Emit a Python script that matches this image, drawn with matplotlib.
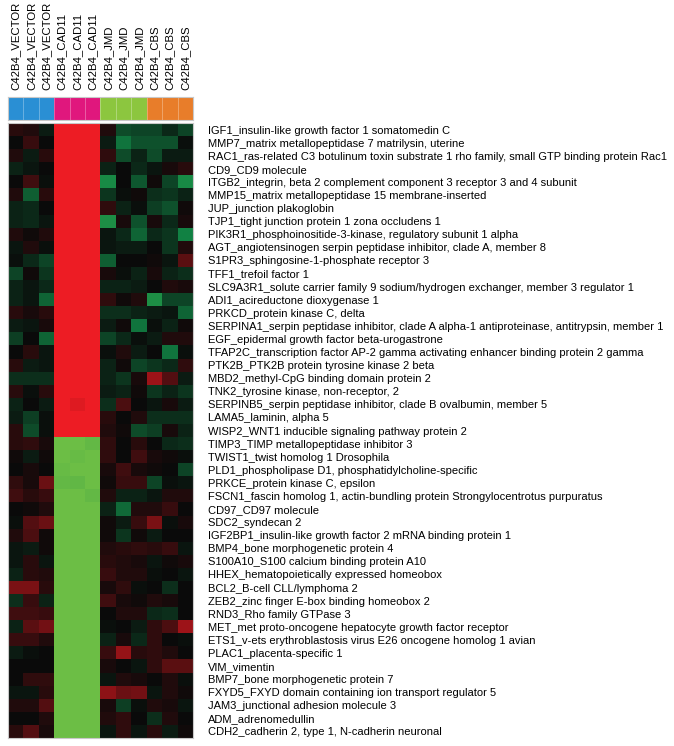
import numpy as np
import matplotlib
matplotlib.use("Agg")
import matplotlib.pyplot as plt
from matplotlib.colors import LinearSegmentedColormap, ListedColormap

samples = ["C42B4_VECTOR"] * 3 + ["C42B4_CAD11"] * 3 + ["C42B4_JMD"] * 3 + ["C42B4_CBS"] * 3
group_colors = ["#2a8fd4"] * 3 + ["#e0177d"] * 3 + ["#8cc63f"] * 3 + ["#e87d2a"] * 3

genes = [
    "IGF1_insulin-like growth factor 1 somatomedin C",
    "MMP7_matrix metallopeptidase 7 matrilysin, uterine",
    "RAC1_ras-related C3 botulinum toxin substrate 1 rho family, small GTP binding protein Rac1",
    "CD9_CD9 molecule",
    "ITGB2_integrin, beta 2 complement component 3 receptor 3 and 4 subunit",
    "MMP15_matrix metallopeptidase 15 membrane-inserted",
    "JUP_junction plakoglobin",
    "TJP1_tight junction protein 1 zona occludens 1",
    "PIK3R1_phosphoinositide-3-kinase, regulatory subunit 1 alpha",
    "AGT_angiotensinogen serpin peptidase inhibitor, clade A, member 8",
    "S1PR3_sphingosine-1-phosphate receptor 3",
    "TFF1_trefoil factor 1",
    "SLC9A3R1_solute carrier family 9 sodium/hydrogen exchanger, member 3 regulator 1",
    "ADI1_acireductone dioxygenase 1",
    "PRKCD_protein kinase C, delta",
    "SERPINA1_serpin peptidase inhibitor, clade A alpha-1 antiproteinase, antitrypsin, member 1",
    "EGF_epidermal growth factor beta-urogastrone",
    "TFAP2C_transcription factor AP-2 gamma activating enhancer binding protein 2 gamma",
    "PTK2B_PTK2B protein tyrosine kinase 2 beta",
    "MBD2_methyl-CpG binding domain protein 2",
    "TNK2_tyrosine kinase, non-receptor, 2",
    "SERPINB5_serpin peptidase inhibitor, clade B ovalbumin, member 5",
    "LAMA5_laminin, alpha 5",
    "WISP2_WNT1 inducible signaling pathway protein 2",
    "TIMP3_TIMP metallopeptidase inhibitor 3",
    "TWIST1_twist homolog 1 Drosophila",
    "PLD1_phospholipase D1, phosphatidylcholine-specific",
    "PRKCE_protein kinase C, epsilon",
    "FSCN1_fascin homolog 1, actin-bundling protein Strongylocentrotus purpuratus",
    "CD97_CD97 molecule",
    "SDC2_syndecan 2",
    "IGF2BP1_insulin-like growth factor 2 mRNA binding protein 1",
    "BMP4_bone morphogenetic protein 4",
    "S100A10_S100 calcium binding protein A10",
    "HHEX_hematopoietically expressed homeobox",
    "BCL2_B-cell CLL/lymphoma 2",
    "ZEB2_zinc finger E-box binding homeobox 2",
    "RND3_Rho family GTPase 3",
    "MET_met proto-oncogene hepatocyte growth factor receptor",
    "ETS1_v-ets erythroblastosis virus E26 oncogene homolog 1 avian",
    "PLAC1_placenta-specific 1",
    "VIM_vimentin",
    "BMP7_bone morphogenetic protein 7",
    "FXYD5_FXYD domain containing ion transport regulator 5",
    "JAM3_junctional adhesion molecule 3",
    "ADM_adrenomedullin",
    "CDH2_cadherin 2, type 1, N-cadherin neuronal",
]

vector = [
    [0.2, 0.15, -0.15], [0, 0.3, 0.02], [0.15, -0.15, 0.2], [-0.2, -0.1, 0],
    [0, 0.35, -0.05], [0.15, -0.65, 0.2], [-0.2, -0.25, 0], [-0.2, -0.25, -0.1],
    [0.15, 0.05, 0.15], [-0.1, 0.15, -0.05], [-0.05, -0.25, -0.45], [-0.45, 0.05, -0.35],
    [-0.2, -0.1, -0.25], [-0.2, -0.1, -0.7], [0.2, 0.1, 0.2], [-0.15, -0.1, 0.1],
    [-0.4, 0, -0.7], [0, 0.2, -0.1], [0.2, -0.15, -0.1], [-0.3, -0.3, -0.3],
    [0.2, -0.05, 0.2], [-0.2, 0, -0.15], [-0.15, -0.4, -0.05], [0.2, -0.5, -0.05],
    [0.2, 0.25, 0.1], [0.05, -0.15, 0.05], [0, 0.1, 0], [0.25, 0.1, 0.6],
    [0.35, 0.2, 0.3], [0, 0.05, 0.15], [-0.05, 0.45, 0.6], [0.15, 0.4, 0.05],
    [-0.1, -0.15, 0.05], [-0.1, 0.2, -0.1], [-0.2, 0.2, 0.15], [0.7, 0.7, 0.2],
    [-0.3, 0.3, -0.2], [0.35, 0.35, 0.3], [-0.2, 0.5, 0.65], [0.3, 0.3, 0.15],
    [-0.15, -0.05, 0], [0, 0, 0], [0, 0.25, 0.25], [-0.1, -0.1, 0.2],
    [0.15, 0.15, 0.45], [0, 0, 0.15], [0.2, 0.45, 0.1],
]

cad11 = (
    [[3, 3, 3]] * 21 + [[3, 2.6, 3]] + [[3, 3, 3]] * 2
    + [[-3, -3, -2.8], [-3, -2.9, -3], [-2.9, -3, -3], [-2.8, -2.75, -3], [-3, -3, -2.8]]
    + [[-3, -3, -3]] * 18
)

jmd = [
    [0.15, -0.5, -0.45], [-0.15, -0.8, -0.55], [0.25, -0.5, -0.2], [-0.2, 0, -0.25],
    [-1.1, 0, -0.6], [-0.35, -0.05, 0.05], [0.25, -0.2, -0.05], [-1.2, 0.1, -0.55],
    [-0.1, -0.25, -0.7], [-0.1, -0.15, -0.15], [-0.65, 0, 0], [0.1, -0.05, -0.2],
    [-0.2, -0.2, -0.15], [0.25, 0.05, 0.15], [-0.3, -0.3, -0.2], [-0.15, 0.05, -0.8],
    [-0.45, -0.25, -0.05], [-0.05, 0.15, -0.15], [-0.2, 0.05, -0.45], [-0.2, -0.35, 0.1],
    [-0.15, -0.2, 0.05], [-0.3, 0.4, 0], [0.2, 0, 0.15], [0.15, 0.05, -0.5],
    [0.25, 0, 0.2], [0.25, 0, 0.35], [0.1, 0.35, 0.1], [0.05, 0.3, 0.3],
    [0.15, -0.2, -0.2], [-0.2, -0.75, 0.15], [0.05, -0.15, 0.3], [0.05, -0.35, 0.05],
    [0.15, 0.2, 0.25], [0.2, 0.15, 0.1], [0.3, 0.15, 0.15], [0.1, 0.25, -0.05],
    [0.35, 0.1, 0.05], [0, 0.15, 0.15], [-0.05, 0, -0.15], [-0.2, 0.1, -0.25],
    [0.3, 0.85, 0.2], [0.1, 0, -0.1], [-0.1, 0.15, 0.1], [0.8, 0.6, 0.65],
    [0.1, -0.4, -0.05], [0.15, 0.25, 0], [-0.1, 0.25, -0.1],
]

cbs = [
    [-0.45, -0.25, -0.45], [-0.55, -0.55, -0.05], [-0.5, -0.15, -0.15], [-0.1, 0.1, 0.2],
    [0.05, -0.45, -1.1], [-0.3, -0.35, -0.2], [-0.4, -0.55, 0.05], [0.1, -0.25, 0.1],
    [-0.25, -0.35, -0.9], [0, -0.35, 0.15], [0.05, -0.1, 0.5], [0.1, -0.2, -0.3],
    [0, 0.15, 0.1], [-1.2, -0.45, -0.45], [-0.15, -0.1, -0.7], [-0.05, -0.2, 0.05],
    [-0.15, 0.15, 0.15], [0, -0.8, -0.05], [-0.35, -0.25, 0.25], [0.9, 0.45, -0.15],
    [-0.35, -0.2, -0.35], [-0.1, 0.1, -0.15], [-0.3, -0.3, -0.3], [-0.4, 0.1, -0.2],
    [0, -0.25, -0.3], [0.1, 0.05, -0.05], [0.05, 0, -0.45], [-0.45, -0.05, -0.1],
    [-0.1, 0.15, 0.15], [0.15, 0.3, 0], [0.7, -0.05, 0.1], [-0.15, 0, 0],
    [0.2, 0.3, -0.1], [-0.1, 0.05, 0.1], [-0.05, 0, -0.1], [0, -0.3, 0],
    [0.15, 0.1, 0], [-0.25, -0.3, 0], [0.25, 0.4, 0.9], [0.25, 0, -0.05],
    [0.25, 0.15, 0], [0.25, 0.5, 0.5], [0, 0.15, -0.05], [-0.1, 0.15, 0.05],
    [0.15, 0.1, -0.1], [-0.3, 0.15, 0], [0.2, -0.15, 0.05],
]

matrix = np.hstack([np.array(vector), np.array(cad11), np.array(jmd), np.array(cbs)])

vmin, vmax = -3.0, 3.0
nodes = [
    (-3.0, (108, 190, 69)),
    (-0.95, (18, 135, 70)),
    (-0.02, (10, 10, 10)),
    (0.02, (10, 10, 10)),
    (0.95, (165, 20, 25)),
    (3.0, (237, 28, 36)),
]
cmap = LinearSegmentedColormap.from_list(
    "gr", [((v - vmin) / (vmax - vmin), tuple(c / 255 for c in col)) for v, col in nodes]
)

W, H = 674, 746
fig = plt.figure(figsize=(W / 100, H / 100), dpi=100)
fig.patch.set_facecolor("white")
plt.rcParams["font.family"] = ["Liberation Sans", "DejaVu Sans"]

x0, x1 = 8, 193
hy0, hy1 = 123, 738
by0, by1 = 97, 120

ax = fig.add_axes([x0 / W, 1 - hy1 / H, (x1 - x0) / W, (hy1 - hy0) / H])
ax.imshow(matrix, cmap=cmap, vmin=vmin, vmax=vmax, aspect="auto", interpolation="nearest")
ax.set_xticks([])
ax.yaxis.tick_right()
ax.set_yticks(range(len(genes)))
ax.set_yticklabels(genes, fontsize=8.0)
ax.tick_params(axis="y", length=0, pad=10.5)
for s in ax.spines.values():
    s.set_color("#c8c8c8")
    s.set_linewidth(0.8)

bax = fig.add_axes([x0 / W, 1 - by1 / H, (x1 - x0) / W, (by1 - by0) / H])
bax.imshow(np.arange(len(samples))[None, :], cmap=ListedColormap(group_colors),
           aspect="auto", interpolation="nearest")
for i in range(1, len(samples)):
    bax.axvline(i - 0.5, color="white", alpha=0.35, lw=0.6)
bax.set_yticks([])
bax.xaxis.tick_top()
bax.set_xticks(range(len(samples)))
bax.set_xticklabels(samples, rotation=90, fontsize=8.2)
bax.tick_params(axis="x", length=0, pad=5)
for s in bax.spines.values():
    s.set_color("#c8c8c8")
    s.set_linewidth(0.8)

fig.savefig("out.png", dpi=100)
